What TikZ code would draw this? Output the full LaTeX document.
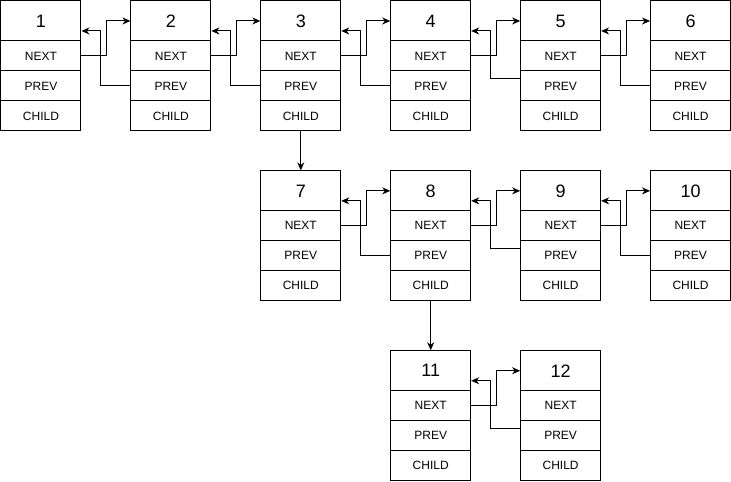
\documentclass[tikz,border=0pt]{standalone}
\usepackage{fontspec}
\setmainfont{Liberation Sans}
\usetikzlibrary{arrows.meta,calc}

\tikzset{
  cell/.style={draw, line width=1pt, minimum width=80pt, inner sep=0pt, anchor=north west},
  headcell/.style={cell, minimum height=40pt, font=\fontsize{18}{20}\selectfont},
  fieldcell/.style={cell, minimum height=30pt, font=\fontsize{12}{14}\selectfont},
  link/.style={line width=1pt, -{Stealth[length=8pt,width=7pt,inset=2.5pt]}},
}

\begin{document}
\begin{tikzpicture}[x=1pt,y=-1pt]
\useasboundingbox (-0.5,-0.5) rectangle (731,481);

% one list entry: number header, then NEXT / PREV / CHILD fields
\foreach \id/\px/\py in {1/0/0, 2/130/0, 3/260/0, 4/390/0, 5/520/0, 6/650/0,
                         7/260/170, 8/390/170, 9/520/170, 10/650/170,
                         11/390/350, 12/520/350} {
  \node[headcell]  (h\id) at (\px,\py)     {\id};
  \node[fieldcell] (n\id) at (\px,\py+40)  {NEXT};
  \node[fieldcell] (p\id) at (\px,\py+70)  {PREV};
  \node[fieldcell] (c\id) at (\px,\py+100) {CHILD};
}

% next pointers: NEXT field to the following header
\foreach \a/\b in {1/2, 2/3, 3/4, 4/5, 5/6, 7/8, 8/9, 9/10, 11/12} {
  \draw[link] (n\a.east) -- ++(25,0) |- (h\b.west);
}

% prev pointers: PREV field back to the preceding header
\foreach \a/\b in {1/2, 2/3, 3/4, 5/6, 7/8, 9/10} {
  \draw[link] (p\b.west) -- ++(-29.5,0) |- ($(h\a.east)+(0,10)$);
}
\foreach \a/\b in {4/5, 8/9, 11/12} {
  \draw[link] ($(p\b.west)+(0,-7)$) -- ++(-29.5,0) |- ($(h\a.east)+(0,10)$);
}

% child pointers
\draw[link] (c3.south) -- (h7.north);
\draw[link] (c8.south) -- (h11.north);
\end{tikzpicture}
\end{document}
